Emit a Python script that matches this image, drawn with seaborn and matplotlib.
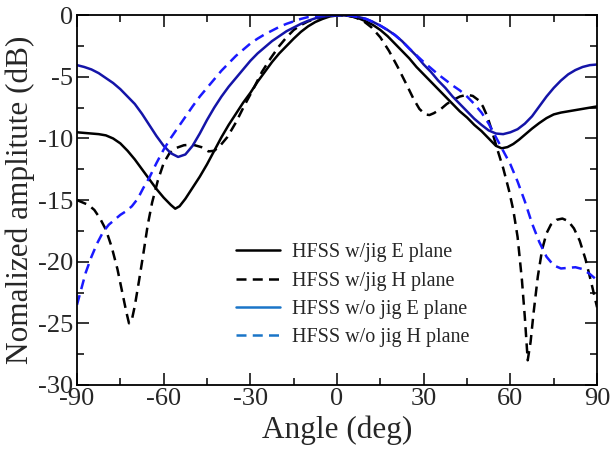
import matplotlib
matplotlib.use("Agg")
import matplotlib.pyplot as plt
from matplotlib.lines import Line2D
from matplotlib.ticker import MultipleLocator
import seaborn as sns

# Angle (deg) / normalized amplitude (dB)
jig_e_angle = [-90, -87.5, -85, -82.5, -80, -77.5, -75, -72.5, -70, -67.5, -65, -62.5,
               -60, -57.5, -56, -54.5, -52.5, -50, -47.5, -45, -42.5, -40, -37.5, -35,
               -32.5, -30, -27.5, -25, -22.5, -20, -17.5, -15, -12.5, -10, -7.5, -5,
               -2.5, 0, 2.5, 5, 7.5, 10, 12.5, 15, 17.5, 20, 22.5, 25, 27.5, 30, 32.5,
               35, 37.5, 40, 42.5, 45, 47.5, 50, 52.5, 55, 57, 59, 61, 63, 65, 67.5, 70,
               72.5, 75, 77.5, 80, 82.5, 85, 87.5, 90]
jig_e_db = [-9.5, -9.55, -9.6, -9.65, -9.75, -10.0, -10.4, -11.0, -11.7, -12.5, -13.3,
            -14.1, -14.8, -15.4, -15.7, -15.5, -14.9, -14.0, -13.1, -12.1, -11.0, -9.9,
            -8.9, -8.0, -7.1, -6.3, -5.4, -4.6, -3.8, -3.1, -2.5, -1.9, -1.35, -0.9,
            -0.55, -0.3, -0.1, -0.02, 0, -0.1, -0.25, -0.5, -0.8, -1.2, -1.7, -2.3,
            -2.9, -3.5, -4.2, -4.8, -5.4, -6.0, -6.6, -7.2, -7.8, -8.3, -8.9, -9.4,
            -10.0, -10.6, -10.8, -10.7, -10.45, -10.1, -9.7, -9.2, -8.75, -8.35, -8.05,
            -7.9, -7.8, -7.7, -7.6, -7.5, -7.4]

jig_h_angle = [-90, -88, -86, -84, -82, -80, -78, -76, -74.5, -73, -72, -71, -70, -68.5,
               -67, -65.5, -64, -62, -60, -58, -56, -53, -50, -47, -44.5, -42.5, -40.5,
               -38, -35, -32, -29, -26, -23, -20, -17.5, -15, -12.5, -10, -7.5, -5,
               -2.5, 0, 3, 6, 9, 12, 15, 18, 21, 24, 26.5, 28.5, 30.5, 32, 33.5, 36, 38,
               40, 42.5, 45, 47, 49, 50.5, 52, 53.5, 55.5, 57.5, 59.5, 61, 62.5, 64, 65,
               66, 67, 68, 69.5, 71, 72.5, 74, 76, 78, 80, 82, 84, 86, 88, 90]
jig_h_db = [-15.0, -15.2, -15.4, -15.8, -16.5, -17.4, -18.8, -20.6, -22.3, -24.0, -25.0,
            -24.7, -23.6, -21.5, -19.3, -17.0, -15.2, -13.4, -12.0, -11.2, -10.8,
            -10.55, -10.5, -10.7, -11.05, -11.0, -10.6, -9.9, -8.7, -7.3, -6.0, -4.6,
            -3.5, -2.5, -1.8, -1.2, -0.8, -0.5, -0.3, -0.15, -0.04, 0, 0, -0.15, -0.45,
            -1.0, -1.8, -2.9, -4.2, -5.6, -6.8, -7.6, -8.05, -8.1, -7.95, -7.6, -7.2,
            -6.9, -6.6, -6.45, -6.55, -6.9, -7.4, -8.2, -9.3, -10.9, -12.4, -14.2,
            -15.8, -18.0, -21.5, -24.5, -28.0, -26.5, -24.2, -21.2, -19.0, -17.7,
            -17.0, -16.6, -16.5, -16.7, -17.3, -18.3, -19.8, -21.7, -23.7]

nojig_e_angle = [-90, -87.5, -85, -82.5, -80, -77.5, -75, -72.5, -70, -67.5, -65, -62.5,
                 -60, -57.5, -55, -52.5, -50, -47.5, -45, -42.5, -40, -37.5, -35, -32.5,
                 -30, -27.5, -25, -22.5, -20, -17.5, -15, -12.5, -10, -7.5, -5, -2.5, 0,
                 2.5, 5, 7.5, 10, 12.5, 15, 17.5, 20, 22.5, 25, 27.5, 30, 32.5, 35, 37.5,
                 40, 42.5, 45, 47.5, 50, 52.5, 55, 57.5, 60, 62.5, 65, 67.5, 70, 72.5,
                 75, 77.5, 80, 82.5, 85, 87.5, 90]
nojig_e_db = [-4.05, -4.2, -4.4, -4.7, -5.1, -5.5, -6.0, -6.6, -7.2, -8.0, -8.9, -9.8,
              -10.6, -11.2, -11.5, -11.3, -10.6, -9.6, -8.5, -7.5, -6.6, -5.8, -5.1,
              -4.4, -3.7, -3.1, -2.6, -2.1, -1.7, -1.3, -1.0, -0.7, -0.45, -0.25,
              -0.12, -0.04, 0, 0, -0.05, -0.15, -0.3, -0.55, -0.85, -1.2, -1.6, -2.1,
              -2.7, -3.3, -4.0, -4.6, -5.3, -5.9, -6.6, -7.2, -7.8, -8.4, -8.9, -9.35,
              -9.6, -9.65, -9.5, -9.25, -8.8, -8.2, -7.4, -6.6, -5.9, -5.3, -4.8,
              -4.45, -4.2, -4.05, -4.0]

nojig_h_angle = [-90, -88.5, -87, -85, -83, -81, -79, -77, -75, -73, -71, -69, -67, -65,
                 -62.5, -60, -57.5, -55, -52.5, -50, -47.5, -45, -42.5, -40, -37.5, -35,
                 -32.5, -30, -27.5, -25, -22.5, -20, -17.5, -15, -12.5, -10, -7.5, -5,
                 0, 2.5, 5, 7.5, 10, 12.5, 15, 17.5, 20, 22.5, 25, 27.5, 30, 32.5, 35,
                 37.5, 40, 42.5, 45, 47.5, 50, 52.5, 55, 57.5, 60, 62.5, 65, 67.5, 70,
                 72.5, 75, 77.5, 80, 82.5, 85, 87.5, 90]
nojig_h_db = [-23.5, -22.2, -20.9, -19.6, -18.5, -17.6, -17.0, -16.6, -16.2, -15.9,
              -15.5, -14.9, -14.0, -13.2, -12.0, -10.9, -9.95, -9.1, -8.25, -7.4, -6.6,
              -5.9, -5.2, -4.5, -3.9, -3.3, -2.8, -2.3, -1.9, -1.55, -1.25, -0.95,
              -0.7, -0.5, -0.3, -0.15, -0.06, 0, 0, 0, -0.05, -0.15, -0.3, -0.55,
              -0.85, -1.2, -1.6, -2.1, -2.7, -3.25, -3.8, -4.3, -4.8, -5.25, -5.7,
              -6.1, -6.6, -7.2, -7.9, -8.8, -9.9, -11.0, -12.1, -13.5, -15.1, -16.9,
              -18.4, -19.6, -20.3, -20.55, -20.5, -20.45, -20.6, -21.0, -21.5]

labels = ["HFSS w/jig E plane", "HFSS w/jig H plane",
          "HFSS w/o jig E plane", "HFSS w/o jig H plane"]

sns.set_style("ticks")
plt.rcParams["font.family"] = ["Liberation Serif", "DejaVu Serif"]
plt.rcParams["axes.unicode_minus"] = False

fig = plt.figure(figsize=(6.13, 4.61), dpi=100)
ax = fig.add_axes([0.1256, 0.165, 0.8484, 0.802])

dash = (0, (4, 2.5))
lw = 1.8
sns.lineplot(x=jig_e_angle, y=jig_e_db, ax=ax, color="black", linewidth=lw)
sns.lineplot(x=jig_h_angle, y=jig_h_db, ax=ax, color="black", linewidth=lw, linestyle=dash)
sns.lineplot(x=nojig_e_angle, y=nojig_e_db, ax=ax, color="#1414a8", linewidth=lw)
sns.lineplot(x=nojig_h_angle, y=nojig_h_db, ax=ax, color="#1a1aff", linewidth=lw, linestyle=dash)

ax.set_xlim(-90, 90)
ax.set_ylim(-30, 0)
ax.xaxis.set_major_locator(MultipleLocator(30))
ax.xaxis.set_minor_locator(MultipleLocator(15))
ax.yaxis.set_major_locator(MultipleLocator(5))
ax.yaxis.set_minor_locator(MultipleLocator(2.5))
ax.tick_params(which="both", direction="in", top=True, right=True, width=1.1, color="black")
ax.tick_params(which="major", length=8.5, labelsize=19)
ax.tick_params(which="minor", length=5)
ax.tick_params(axis="x", pad=2)
ax.tick_params(axis="y", pad=3)
for s in ax.spines.values():
    s.set_linewidth(1.3)
    s.set_color("black")

ax.set_xlabel("Angle (deg)", fontsize=22.5, labelpad=4)
ax.set_ylabel("Nomalized amplitute (dB)", fontsize=22.5, labelpad=2)

# legend swatches use a lighter blue than the plotted lines, as in the original
handles = [Line2D([], [], color="black", lw=lw),
           Line2D([], [], color="black", lw=lw, linestyle=dash),
           Line2D([], [], color="#1a75c8", lw=lw),
           Line2D([], [], color="#1a75c8", lw=lw, linestyle=dash)]
ax.legend(handles, labels, loc="center", bbox_to_anchor=(0.53, 0.243), frameon=False,
          fontsize=14.5, handlelength=2.2, handletextpad=0.6, labelspacing=0.45)

fig.savefig("out.png", dpi=100)
